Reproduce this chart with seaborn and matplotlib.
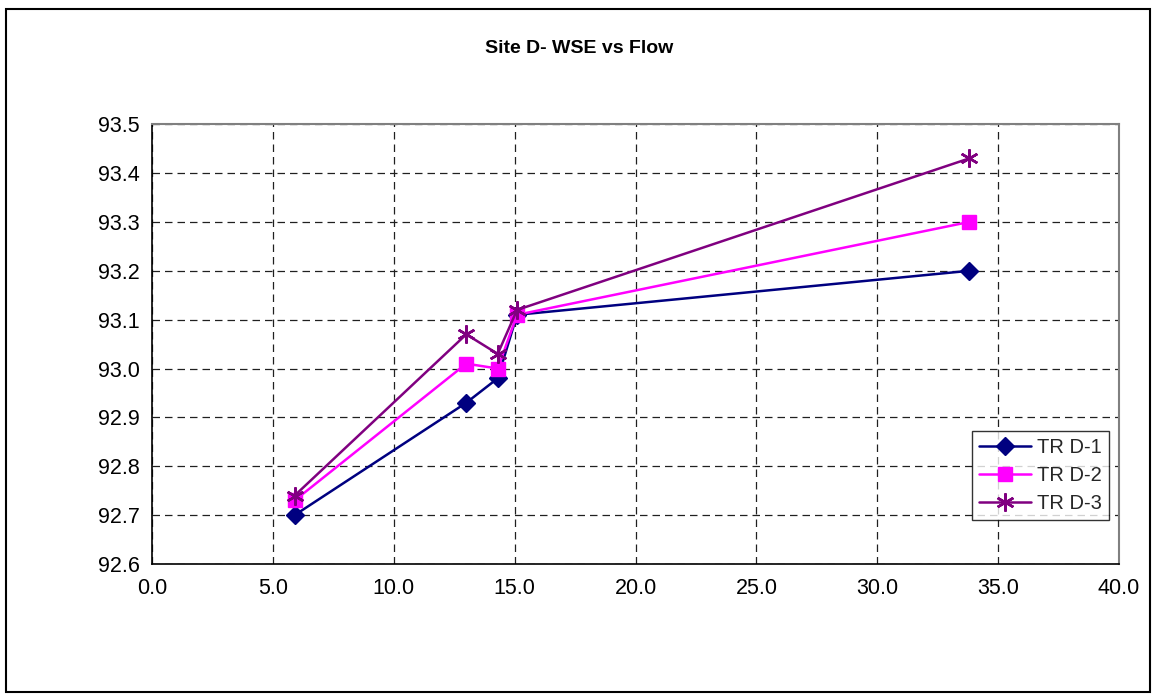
import matplotlib
matplotlib.use("Agg")
import matplotlib.pyplot as plt
from matplotlib.patches import Rectangle
import seaborn as sns
import pandas as pd

flow = [5.9, 13.0, 14.3, 15.1, 33.8]
wse_d1 = [92.70, 92.93, 92.98, 93.11, 93.20]
wse_d2 = [92.73, 93.01, 93.00, 93.11, 93.30]
wse_d3 = [92.74, 93.07, 93.03, 93.12, 93.43]
series_names = ["TR D-1", "TR D-2", "TR D-3"]
x_ticks = [0, 5, 10, 15, 20, 25, 30, 35, 40]
y_ticks = [92.6, 92.7, 92.8, 92.9, 93.0, 93.1, 93.2, 93.3, 93.4, 93.5]

rows = []
for name, vals in zip(series_names, [wse_d1, wse_d2, wse_d3]):
    for f, v in zip(flow, vals):
        rows.append({"Flow": f, "WSE": v, "Series": name})
df = pd.DataFrame(rows)

sns.set_theme(style="white")
plt.rcParams["font.family"] = ["Liberation Sans", "DejaVu Sans"]

fig = plt.figure(figsize=(11.56, 6.98), dpi=100)
ax = fig.add_axes([0.1315, 0.192, 0.8365, 0.630])

palette = {"TR D-1": "#000080", "TR D-2": "#FF00FF", "TR D-3": "#800080"}
markers = {"TR D-1": "D", "TR D-2": "s", "TR D-3": (6, 2, 0)}
sizes_ms = {"TR D-1": 9, "TR D-2": 10, "TR D-3": 13}

for name in series_names:
    sub = df[df["Series"] == name]
    sns.lineplot(data=sub, x="Flow", y="WSE", ax=ax, color=palette[name],
                 marker=markers[name], markersize=sizes_ms[name],
                 markeredgecolor=palette[name], markeredgewidth=1.8 if name == "TR D-3" else 1,
                 linewidth=1.8, label=name, sort=False, estimator=None)

ax.set_xlim(0, 40)
ax.set_ylim(92.6, 93.5)
ax.set_xticks(x_ticks)
ax.set_xticklabels([f"{t:.1f}" for t in x_ticks])
ax.set_yticks(y_ticks)
ax.set_yticklabels([f"{t:.1f}" for t in y_ticks])
ax.set_xlabel("")
ax.set_ylabel("")
ax.tick_params(axis="both", direction="out", length=5, width=1, color="black",
               labelsize=15.5, labelcolor="black", pad=4)
ax.tick_params(axis="x", pad=5)

ax.grid(True, color="#202020", linestyle=(0, (6, 4)), linewidth=0.9)
ax.set_axisbelow(True)
for side in ["left", "bottom"]:
    ax.spines[side].set_color("black")
    ax.spines[side].set_linewidth(1.2)
for side in ["top", "right"]:
    ax.spines[side].set_color("#808080")
    ax.spines[side].set_linewidth(1.5)

fig.text(0.501, 0.931, "Site D- WSE vs Flow", ha="center", va="center",
         fontsize=14, fontweight="bold", color="black")

leg = ax.legend(loc="lower right", bbox_to_anchor=(0.990, 0.10), fontsize=14.5,
                frameon=True, fancybox=False, handlelength=2.6, borderpad=0.35,
                labelspacing=0.45, handletextpad=0.3, borderaxespad=0)
leg.get_frame().set_edgecolor("black")
leg.get_frame().set_linewidth(1)

fig.patches.append(Rectangle((0.005, 0.009), 0.990, 0.978, transform=fig.transFigure,
                             fill=False, edgecolor="black", linewidth=1.5))

fig.savefig("out.png", dpi=100)
